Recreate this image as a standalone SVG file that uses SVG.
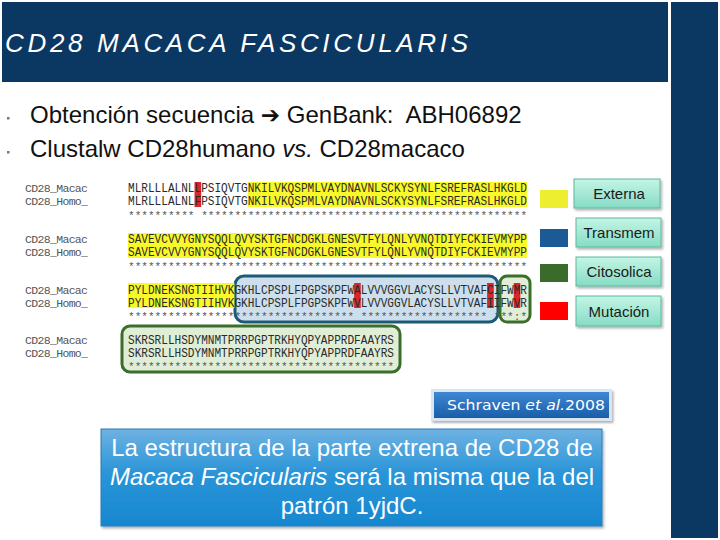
<svg xmlns="http://www.w3.org/2000/svg" width="720" height="540" viewBox="0 0 720 540">
<style>
.seq{font-family:"Liberation Mono","DejaVu Sans Mono",monospace;font-size:12px;fill:#2a2a2a}
.lbl{font-family:"Liberation Mono","DejaVu Sans Mono",monospace;font-size:11.5px;fill:#555}
.star{font-family:"Liberation Mono","DejaVu Sans Mono",monospace;font-size:11px;fill:#555}
.bul{font-family:"Liberation Sans",Arial,sans-serif;font-size:24px;fill:#111}
.btn{fill:url(#btnG);stroke:#5cb89e;stroke-width:1}
.btnt{font-family:"Liberation Sans",Arial,sans-serif;font-size:15px;fill:#1a1a1a;text-anchor:middle}
.yel{fill:#f8f82a}
.red{fill:#d8262a}
</style>
<defs>
<linearGradient id="btnG" x1="0" y1="0" x2="0" y2="1">
<stop offset="0" stop-color="#c4f5e6"/>
<stop offset="1" stop-color="#86dcc4"/>
</linearGradient>
<linearGradient id="schG" x1="0" y1="0" x2="0" y2="1">
<stop offset="0" stop-color="#3f86d4"/>
<stop offset="1" stop-color="#1a5ea8"/>
</linearGradient>
<linearGradient id="boxG" x1="0" y1="0" x2="0" y2="1">
<stop offset="0" stop-color="#6fb2e2"/>
<stop offset="0.45" stop-color="#2a95d8"/>
<stop offset="1" stop-color="#1787d0"/>
</linearGradient>
<filter id="sh" x="-10%" y="-20%" width="130%" height="150%">
<feDropShadow dx="1.5" dy="2" stdDeviation="1.2" flood-color="#000" flood-opacity="0.3"/>
</filter>
</defs>
<rect width="720" height="540" fill="#ffffff"/>
<g id="title">
<rect x="2" y="2" width="666" height="80" fill="#0b3763"/>
<rect x="671" y="2" width="47" height="536" fill="#0b3763"/>
<text x="5" y="52" font-family="Liberation Sans,Arial,sans-serif" font-size="26" font-style="italic" fill="#ffffff" textLength="463" lengthAdjust="spacing">CD28 MACACA FASCICULARIS</text>
</g>
<g id="bullets">
<rect x="7" y="117" width="2.5" height="2.5" fill="#777"/>
<rect x="7" y="151" width="2.5" height="2.5" fill="#777"/>
<text class="bul" x="30" y="123" xml:space="preserve">Obtención secuencia <tspan font-family="DejaVu Sans,sans-serif" font-size="23" font-weight="bold">➔</tspan> GenBank:  ABH06892</text>
<text class="bul" x="30" y="157">Clustalw CD28humano <tspan font-style="italic">vs.</tspan> CD28macaco</text>
</g>
<g id="alignment">
<rect x="235" y="276" width="263" height="46" rx="9" fill="#cddfec" stroke="#1d5a78" stroke-width="3"/>
<rect x="500" y="276" width="30" height="46" rx="7" fill="#e0eed8" stroke="#3a6e2a" stroke-width="3"/>
<rect x="122" y="326" width="278" height="46" rx="8" fill="#e0eed8" stroke="#3a6e2a" stroke-width="3"/>
<rect class="yel" x="247.7" y="182" width="279.3" height="25"/>
<rect class="yel" x="128" y="233" width="399" height="25"/>
<rect class="yel" x="128" y="283" width="106.4" height="25"/>
<rect class="red" x="194.5" y="182" width="6.65" height="25"/>
<rect class="red" x="354.1" y="283" width="6.65" height="25"/>
<rect class="red" x="487.1" y="283" width="6.65" height="25"/>
<rect class="red" x="513.7" y="283" width="6.65" height="25"/>
<g id="block1">
<text class="lbl" x="25" y="192" textLength="63">CD28_Macac</text>
<text class="lbl" x="25" y="205" textLength="63">CD28_Homo_</text>
<text class="seq" x="128" y="192" textLength="399" lengthAdjust="spacingAndGlyphs">MLRLLLALNLLPSIQVTGNKILVKQSPMLVAYDNAVNLSCKYSYNLFSREFRASLHKGLD</text>
<text class="seq" x="128" y="205" textLength="399" lengthAdjust="spacingAndGlyphs">MLRLLLALNLFPSIQVTGNKILVKQSPMLVAYDNAVNLSCKYSYNLFSREFRASLHKGLD</text>
<text class="star" x="128" y="219" textLength="399">********** *************************************************</text>
</g>
<g id="block2">
<text class="lbl" x="25" y="243" textLength="63">CD28_Macac</text>
<text class="lbl" x="25" y="256" textLength="63">CD28_Homo_</text>
<text class="seq" x="128" y="243" textLength="399" lengthAdjust="spacingAndGlyphs">SAVEVCVVYGNYSQQLQVYSKTGFNCDGKLGNESVTFYLQNLYVNQTDIYFCKIEVMYPP</text>
<text class="seq" x="128" y="256" textLength="399" lengthAdjust="spacingAndGlyphs">SAVEVCVVYGNYSQQLQVYSKTGFNCDGKLGNESVTFYLQNLYVNQTDIYFCKIEVMYPP</text>
<text class="star" x="128" y="270" textLength="399">************************************************************</text>
</g>
<g id="block3">
<text class="lbl" x="25" y="294" textLength="63">CD28_Macac</text>
<text class="lbl" x="25" y="307" textLength="63">CD28_Homo_</text>
<text class="seq" x="128" y="294" textLength="399" lengthAdjust="spacingAndGlyphs">PYLDNEKSNGTIIHVKGKHLCPSPLFPGPSKPFWALVVVGGVLACYSLLVTVAFCIFWMR</text>
<text class="seq" x="128" y="307" textLength="399" lengthAdjust="spacingAndGlyphs">PYLDNEKSNGTIIHVKGKHLCPSPLFPGPSKPFWVLVVVGGVLACYSLLVTVAFIIFWVR</text>
<text class="star" x="128" y="320" textLength="399">********************************** ******************* ***:*</text>
</g>
<g id="block4">
<text class="lbl" x="25" y="344" textLength="63">CD28_Macac</text>
<text class="lbl" x="25" y="357" textLength="63">CD28_Homo_</text>
<text class="seq" x="128" y="344" textLength="266" lengthAdjust="spacingAndGlyphs">SKRSRLLHSDYMNMTPRRPGPTRKHYQPYAPPRDFAAYRS</text>
<text class="seq" x="128" y="357" textLength="266" lengthAdjust="spacingAndGlyphs">SKRSRLLHSDYMNMTPRRPGPTRKHYQPYAPPRDFAAYRS</text>
<text class="star" x="128" y="370" textLength="266">****************************************</text>
</g>
</g>
<g id="legend">
<g id="leg-externa">
<rect x="540" y="190" width="28" height="18" fill="#eeee30"/>
<rect class="btn" x="574" y="179" width="86" height="29" filter="url(#sh)"/>
<text class="btnt" x="619" y="199">Externa</text>
</g>
<g id="leg-transmem">
<rect x="540" y="229" width="28" height="18" fill="#1c5a96"/>
<rect class="btn" x="576" y="218" width="85" height="29" filter="url(#sh)"/>
<text class="btnt" x="619" y="238">Transmem</text>
</g>
<g id="leg-citosolica">
<rect x="540" y="264" width="28" height="18" fill="#3b6b2b"/>
<rect class="btn" x="576" y="257" width="85" height="29" filter="url(#sh)"/>
<text class="btnt" x="619" y="277">Citosolica</text>
</g>
<g id="leg-mutacion">
<rect x="540" y="302" width="28" height="18" fill="#ff0000"/>
<rect class="btn" x="576" y="296" width="85" height="30" filter="url(#sh)"/>
<text class="btnt" x="619" y="317">Mutación</text>
</g>
</g>
<g id="ref">
<rect x="431" y="389" width="181" height="32" fill="#d9e6f2" filter="url(#sh)"/>
<rect x="434" y="392" width="175" height="26" fill="url(#schG)"/>
<text x="447" y="410" font-family="DejaVu Sans,Verdana,sans-serif" font-size="14" fill="#ffffff" textLength="158" lengthAdjust="spacingAndGlyphs">Schraven <tspan font-style="italic">et al.</tspan>2008</text>
</g>
<g id="conclusion">
<rect x="101" y="429" width="501" height="97" fill="url(#boxG)" stroke="#2a7ab8" stroke-width="1" filter="url(#sh)"/>
<g font-family="Liberation Sans,Arial,sans-serif" font-size="24" fill="#ffffff" text-anchor="middle">
<text x="352" y="456">La estructura de la parte extrena de CD28 de</text>
<text x="352" y="485"><tspan font-style="italic">Macaca Fascicularis</tspan> será la misma que la del</text>
<text x="352" y="514">patrón 1yjdC.</text>
</g>
</g>
</svg>
